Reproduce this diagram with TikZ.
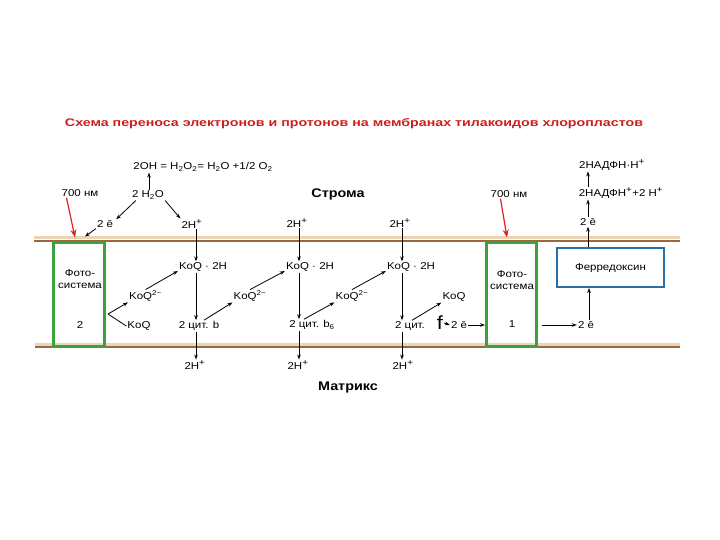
\documentclass[tikz,border=0pt]{standalone}
\usepackage{fontspec}
\usepackage{graphicx}
\setmainfont[FakeStretch=1.15]{Liberation Sans}
\usetikzlibrary{arrows.meta}
\definecolor{ttl}{RGB}{205,30,30}
\definecolor{memb}{RGB}{150,105,65}
\definecolor{membl}{RGB}{235,212,180}
\definecolor{psg}{RGB}{60,160,60}
\definecolor{fdb}{RGB}{40,110,170}
\definecolor{redarr}{RGB}{230,30,30}
\newcommand{\spl}{\textsuperscript{\fontsize{8.5}{9}\selectfont +}}
\tikzset{
  lbl/.style={inner sep=1pt, font=\fontsize{10}{12}\selectfont},
  big/.style={inner sep=1pt, font=\fontsize{12.5}{14}\selectfont\bfseries},
  arr/.style={-{Stealth[length=5pt,width=3.6pt]}, line width=0.8pt},
  rarr/.style={-{Stealth[length=8pt,width=6pt]}, redarr, line width=1.2pt},
  psbox/.style={draw=psg, line width=3pt, inner sep=0pt},
  fdbox/.style={draw=fdb, line width=2pt, inner sep=0pt},
}
\begin{document}
\begin{tikzpicture}[x=1pt,y=-1pt]
\useasboundingbox (0,0) rectangle (720,540);
% title
\node[inner sep=0pt, text=ttl, font=\fontsize{11}{12}\selectfont\bfseries] (title) at (354,124)
  {\resizebox{578pt}{\height}{Схема переноса электронов и протонов на мембранах тилакоидов хлоропластов}};
% membranes
\draw[membl, line width=3pt] (34,237.5) -- (680,237.5);
\draw[memb, line width=2pt] (34,240.5) -- (680,240.5);
\draw[membl, line width=3pt] (35,344) -- (680,344);
\draw[memb, line width=2pt] (35,347) -- (680,347);
% boxes
\node[psbox, minimum width=51pt, minimum height=104pt] (ps2) at (79,294) {};
\node[psbox, minimum width=50pt, minimum height=104pt] (ps1) at (511.5,294) {};
\node[fdbox, minimum width=107pt, minimum height=39pt] (fd) at (610.5,267.5) {};
\node[lbl] (ps2a) at (80,273) {Фото-};
\node[lbl] (ps2b) at (80,286) {система};
\node[lbl] (ps2c) at (80,325) {2};
\node[lbl] (ps1a) at (512,274) {Фото-};
\node[lbl] (ps1b) at (512,287) {система};
\node[lbl] (ps1c) at (512,324) {1};
\node[lbl] (fdt) at (610.5,268) {Ферредоксин};
% top texts
\node[lbl] (oh) at (203,167) {2OH = H\textsubscript{2}O\textsubscript{2}= H\textsubscript{2}O +1/2 O\textsubscript{2}};
\node[lbl] (h2o) at (148,195) {2 H\textsubscript{2}O};
\node[lbl] (e1) at (105,224) {2 ē};
\node[lbl] (hp1) at (192,224) {2H\spl};
\node[lbl] (hp2) at (297,223) {2H\spl};
\node[lbl] (hp3) at (400,223) {2H\spl};
\node[lbl] (nm1) at (80,193) {700 нм};
\node[lbl] (nm2) at (509,194) {700 нм};
\node[big] (stroma) at (338,194) {Строма};
\node[big] (matrix) at (348,387) {Матрикс};
\node[lbl] (nadph) at (612,165) {2НАДФН·Н\spl};
\node[lbl] (nadp) at (621,193) {2НАДФН\spl+2 Н\spl};
\node[lbl] (e2) at (588,222) {2 ē};
% columns
\coordinate (c1) at (196,0);
\coordinate (c2) at (299,0);
\coordinate (c3) at (402,0);
\coordinate (cr) at (588,0);
\node[lbl] (kq1) at (203,267) {KoQ · 2H};
\node[lbl] (kq2) at (310,267) {KoQ · 2H};
\node[lbl] (kq3) at (411,267) {KoQ · 2H};
\node[lbl] (cy1) at (199,326) {2 цит. b};
\node[lbl] (cy2) at (312,325) {2 цит. b\textsubscript{6}};
\node[lbl] (cy3) at (410,326) {2 цит.};
\node[inner sep=1pt, font=\fontsize{19}{20}\selectfont] (f) at (440,323) {f};
\node[lbl] (hb1) at (195,365) {2H\spl};
\node[lbl] (hb2) at (298,365) {2H\spl};
\node[lbl] (hb3) at (403,365) {2H\spl};
\node[lbl] (k1) at (145.5,296) {KoQ\textsuperscript{2−}};
\node[lbl] (k1b) at (139,326) {KoQ};
\node[lbl] (k2) at (250,296) {KoQ\textsuperscript{2−}};
\node[lbl] (k3) at (352,296) {KoQ\textsuperscript{2−}};
\node[lbl] (k4) at (454,297) {KoQ};
\node[lbl] (e3) at (459,325) {2 ē};
\node[lbl] (e4) at (586,325) {2 ē};
% arrows
\draw[arr] ([xshift=1pt]h2o.north) -- ([xshift=1pt]h2o.north |- oh.south);
\draw[arr] ([xshift=5pt]h2o.south west) -- ([xshift=2pt]e1.north east);
\draw[arr] (h2o.south east) -- (hp1.north west);
\draw[arr] (e1.south west) -- ([xshift=-21pt,yshift=4pt]ps2.north east);
\draw[rarr] ([xshift=6pt]nm1.south west) -- ([xshift=-4pt,yshift=3pt]ps2.north);
\draw[rarr] ([xshift=11pt]nm2.south west) -- ([xshift=-4.5pt,yshift=3pt]ps1.north);
\foreach \c/\h/\k/\y/\b in {c1/hp1/kq1/cy1/hb1, c2/hp2/kq2/cy2/hb2, c3/hp3/kq3/cy3/hb3} {
  \draw[arr] (\h.south -| \c) -- (\k.north -| \c);
  \draw[arr] (\k.south -| \c) -- (\y.north -| \c);
  \draw[arr] (\y.south -| \c) -- (\b.north -| \c);
}
\coordinate (br) at ([xshift=2pt,yshift=-20pt]ps2.east);
\draw[arr] (br) -- (k1.south west);
\draw[line width=0.8pt] (br) -- (k1b.west);
\draw[arr] (k1.north) -- ([yshift=-4pt]kq1.west);
\draw[arr] ([xshift=5pt]cy1.north) -- (k2.south west);
\draw[arr] (k2.north) -- ([yshift=-4pt]kq2.west);
\draw[arr] ([xshift=-8pt]cy2.north) -- (k3.south west);
\draw[arr] (k3.north) -- ([yshift=-4pt]kq3.west);
\draw[arr] ([xshift=2pt]cy3.north) -- (k4.south west);
\draw[arr] (f.east) -- (e3.west);
\draw[arr] (e3.east) -- (e3.east -| ps1.west);
\draw[arr] ([xshift=4pt]e4.west -| ps1.east) -- (e4.west);
\draw[arr] ([xshift=3pt]e4.north) -- ([xshift=3pt]e4.north |- fd.south);
\draw[arr] (fd.north -| cr) -- (e2.south -| cr);
\draw[arr] (e2.north -| cr) -- (nadp.south -| cr);
\draw[arr] (nadp.north -| cr) -- (nadph.south -| cr);
\end{tikzpicture}
\end{document}
